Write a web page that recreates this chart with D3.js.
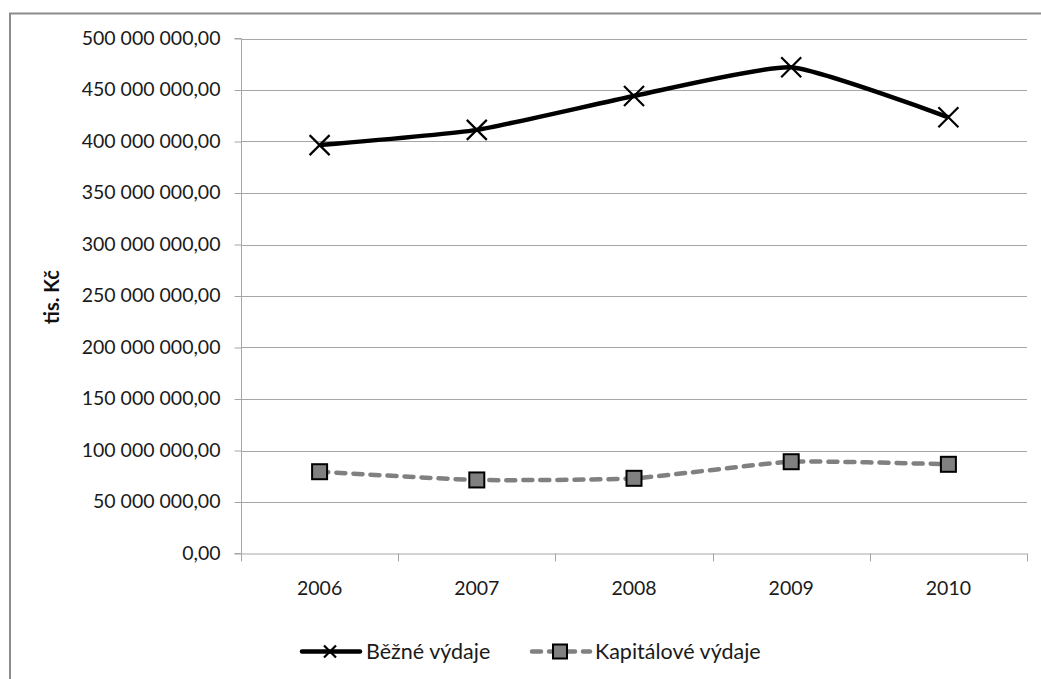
<!DOCTYPE html>
<html>
<head>
<meta charset="utf-8">
<script src="https://cdn.jsdelivr.net/npm/d3@7"></script>
<style>
  html, body { margin: 0; padding: 0; background: #fff; }
  svg { display: block; font-family: "Lato", "Open Sans", sans-serif; }
</style>
</head>
<body>
<svg id="chart" width="1041" height="679"></svg>
<script>
// Years on the category axis
const years = ["2006", "2007", "2008", "2009", "2010"];
// Current expenditure (Běžné výdaje), thousands CZK
const bezneVydaje = [396500000, 411300000, 444200000, 472000000, 423500000];
// Capital expenditure (Kapitálové výdaje), thousands CZK
const kapitaloveVydaje = [79400000, 71400000, 73000000, 89100000, 86600000];
// Value-axis ticks
const yTicks = [0, 50000000, 100000000, 150000000, 200000000, 250000000,
                300000000, 350000000, 400000000, 450000000, 500000000];
const seriesNames = ["Běžné výdaje", "Kapitálové výdaje"];

const svg = d3.select("#chart");
const plot = { left: 241, right: 1027, top: 38.5, bottom: 553.5 };
const textColor = "#1a1a1a";

const x = d3.scaleBand().domain(years).range([plot.left, plot.right]);
const y = d3.scaleLinear().domain([0, 500000000]).range([plot.bottom, plot.top]);
const cx = d => x(d) + x.bandwidth() / 2;

// Chart-area frame
svg.append("rect")
  .attr("x", 10).attr("y", 13.5)
  .attr("width", 1100).attr("height", 800)
  .attr("fill", "none").attr("stroke", "#8c8c8c").attr("stroke-width", 2);

// Czech number format: space thousands, comma decimals
const fmt = v => d3.format(",.2f")(v).replace(/,/g, " ").replace(".", ",");

// Horizontal gridlines
svg.append("g").selectAll("line").data(yTicks.filter(t => t > 0)).join("line")
  .attr("x1", plot.left).attr("x2", plot.right)
  .attr("y1", d => Math.round(y(d)) + 0.5).attr("y2", d => Math.round(y(d)) + 0.5)
  .attr("stroke", "#a6a6a6").attr("stroke-width", 1);

// Value axis
const yAxis = svg.append("g")
  .attr("transform", `translate(${plot.left + 0.5},0)`)
  .call(d3.axisLeft(y).tickValues(yTicks).tickFormat(fmt).tickSize(7).tickPadding(14)
    .offset(0));
yAxis.select(".domain").attr("stroke", "#a6a6a6");
yAxis.selectAll(".tick line").attr("stroke", "#a6a6a6")
  .attr("transform", "translate(0,0.5)");
yAxis.selectAll(".tick text")
  .attr("font-size", 19.5).attr("fill", textColor).attr("font-family", "Lato");

// Category axis
const xAxis = svg.append("g")
  .attr("transform", `translate(0,${plot.bottom + 0.5})`)
  .call(d3.axisBottom(x).tickSize(0).tickPadding(27).offset(0));
xAxis.select(".domain").attr("stroke", "#a6a6a6");
xAxis.selectAll(".tick text")
  .attr("font-size", 19.5).attr("fill", textColor).attr("font-family", "Lato");
// Tick marks between categories
const bounds = years.map(d => x(d)).concat([plot.right]);
svg.append("g").selectAll("line").data(bounds).join("line")
  .attr("x1", d => Math.round(d) + 0.5).attr("x2", d => Math.round(d) + 0.5)
  .attr("y1", plot.bottom).attr("y2", plot.bottom + 8)
  .attr("stroke", "#a6a6a6");

// Axis title
svg.append("text")
  .attr("transform", "translate(59,297) rotate(-90)")
  .attr("text-anchor", "middle")
  .attr("font-size", 20).attr("font-weight", "bold").attr("fill", "#111")
  .text("tis. Kč");

const line = d3.line().x((d, i) => cx(years[i])).y(d => y(d))
  .curve(d3.curveCardinal.tension(0.5));

// Capital expenditure: dashed gray line with square markers
svg.append("path").datum(kapitaloveVydaje)
  .attr("d", line).attr("fill", "none")
  .attr("stroke", "#808080").attr("stroke-width", 4.5)
  .attr("stroke-dasharray", "9 8").attr("stroke-linecap", "round");
svg.append("g").selectAll("rect").data(kapitaloveVydaje).join("rect")
  .attr("x", (d, i) => cx(years[i]) - 7.5).attr("y", d => y(d) - 7.5)
  .attr("width", 15).attr("height", 15)
  .attr("fill", "#808080").attr("stroke", "#000").attr("stroke-width", 2);

// Current expenditure: solid black line with X markers
svg.append("path").datum(bezneVydaje)
  .attr("d", line).attr("fill", "none")
  .attr("stroke", "#000").attr("stroke-width", 4.5).attr("stroke-linejoin", "round");
const crossPath = r => `M${-r},${-r}L${r},${r}M${-r},${r}L${r},${-r}`;
svg.append("g").selectAll("path").data(bezneVydaje).join("path")
  .attr("transform", (d, i) => `translate(${cx(years[i])},${y(d)})`)
  .attr("d", crossPath(10)).attr("stroke", "#000").attr("stroke-width", 2.2)
  .attr("fill", "none");

// Legend
const lg = svg.append("g").attr("transform", "translate(0,651.5)");
lg.append("line").attr("x1", 302).attr("x2", 360).attr("y1", 0).attr("y2", 0)
  .attr("stroke", "#000").attr("stroke-width", 4.5).attr("stroke-linecap", "round");
lg.append("path").attr("transform", "translate(330,0)").attr("d", crossPath(6))
  .attr("stroke", "#000").attr("stroke-width", 2.2);
lg.append("text").attr("x", 366).attr("y", 0).attr("dy", "0.35em")
  .attr("font-size", 21.5).attr("fill", textColor).text(seriesNames[0]);

lg.append("line").attr("x1", 532).attr("x2", 590).attr("y1", 0).attr("y2", 0)
  .attr("stroke", "#808080").attr("stroke-width", 4.5)
  .attr("stroke-dasharray", "9 8").attr("stroke-linecap", "round");
lg.append("rect").attr("x", 553).attr("y", -7).attr("width", 14).attr("height", 14)
  .attr("fill", "#808080").attr("stroke", "#000").attr("stroke-width", 2);
lg.append("text").attr("x", 595).attr("y", 0).attr("dy", "0.35em")
  .attr("font-size", 21.5).attr("fill", textColor).text(seriesNames[1]);
</script>
</body>
</html>
